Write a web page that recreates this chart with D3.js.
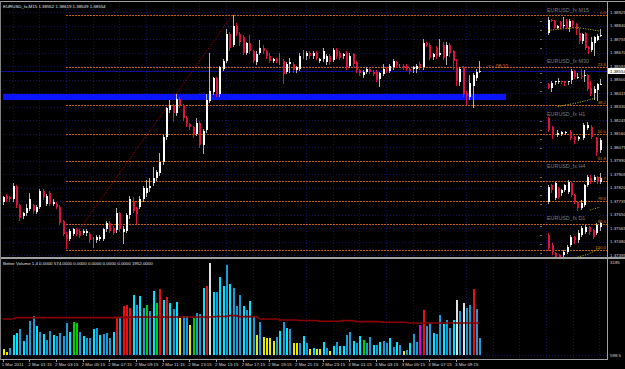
<!DOCTYPE html>
<html>
<head>
<meta charset="UTF-8">
<script src="https://cdn.jsdelivr.net/npm/d3@7"></script>
<style>
body{margin:0;background:#000;}
text{font-family:"Liberation Sans",Arial,sans-serif;}
</style>
</head>
<body>
<script>

// ---- data ----
var symbol = "EURUSD_fx,M15";
// [open, high, low, close] for each M15 bar, 1 Mar 23:15 .. 3 Mar 11:00
var ohlc = [
[1.3773,1.3777,1.3772,1.3776],[1.3777,1.3778,1.3774,1.3775],[1.3776,1.3777,1.3774,1.3775],[1.3775,1.3785,1.3774,1.3783],
[1.3783,1.3784,1.3770,1.3771],[1.3771,1.3772,1.3762,1.3763],[1.3764,1.3767,1.3763,1.3766],[1.3766,1.3772,1.3765,1.3769],
[1.3769,1.3779,1.3768,1.3775],[1.3771,1.3772,1.3766,1.3767],[1.3767,1.3771,1.3766,1.3770],[1.3770,1.3781,1.3769,1.3780],
[1.3780,1.3781,1.3775,1.3776],[1.3772,1.3778,1.3771,1.3777],[1.3779,1.3780,1.3771,1.3772],[1.3772,1.3775,1.3771,1.3773],
[1.3772,1.3773,1.3769,1.3770],[1.3770,1.3771,1.3759,1.3760],[1.3761,1.3762,1.3752,1.3753],[1.3753,1.3754,1.3744,1.3750],
[1.3750,1.3756,1.3749,1.3755],[1.3753,1.3757,1.3752,1.3756],[1.3756,1.3757,1.3752,1.3753],[1.3755,1.3756,1.3751,1.3752],
[1.3754,1.3756,1.3753,1.3755],[1.3754,1.3756,1.3752,1.3755],[1.3753,1.3754,1.3748,1.3749],[1.3749,1.3751,1.3745,1.3749],
[1.3749,1.3752,1.3748,1.3751],[1.3750,1.3752,1.3749,1.3751],[1.3750,1.3757,1.3749,1.3756],[1.3756,1.3761,1.3755,1.3760],
[1.3760,1.3761,1.3754,1.3755],[1.3757,1.3758,1.3753,1.3754],[1.3755,1.3769,1.3754,1.3766],[1.3766,1.3767,1.3755,1.3756],
[1.3754,1.3758,1.3747,1.3756],[1.3755,1.3766,1.3754,1.3765],[1.3765,1.3777,1.3763,1.3775],[1.3774,1.3776,1.3767,1.3768],
[1.3769,1.3770,1.3760,1.3765],[1.3770,1.3777,1.3769,1.3775],[1.3775,1.3783,1.3774,1.3782],[1.3779,1.3787,1.3777,1.3782],
[1.3782,1.3788,1.3780,1.3783],[1.3785,1.3795,1.3784,1.3788],[1.3788,1.3793,1.3787,1.3792],[1.3791,1.3804,1.3790,1.3798],
[1.3798,1.3815,1.3797,1.3814],[1.3814,1.3833,1.3813,1.3832],[1.3831,1.3837,1.3830,1.3834],[1.3834,1.3835,1.3824,1.3829],
[1.3829,1.3841,1.3828,1.3838],[1.3838,1.3839,1.3833,1.3834],[1.3834,1.3835,1.3825,1.3826],[1.3826,1.3827,1.3821,1.3822],
[1.3822,1.3823,1.3819,1.3820],[1.3820,1.3821,1.3814,1.3815],[1.3816,1.3826,1.3815,1.3823],[1.3823,1.3824,1.3808,1.3809],
[1.3809,1.3819,1.3804,1.3818],[1.3818,1.3841,1.3817,1.3837],[1.3837,1.3867,1.3836,1.3843],[1.3842,1.3852,1.3841,1.3851],
[1.3851,1.3852,1.3840,1.3841],[1.3841,1.3859,1.3840,1.3858],[1.3857,1.3863,1.3856,1.3862],[1.3862,1.3882,1.3861,1.3879],
[1.3879,1.3880,1.3869,1.3870],[1.3872,1.3891,1.3871,1.3884],[1.3884,1.3886,1.3878,1.3879],[1.3879,1.3880,1.3872,1.3874],
[1.3877,1.3878,1.3866,1.3867],[1.3867,1.3874,1.3866,1.3873],[1.3873,1.3878,1.3867,1.3868],[1.3868,1.3869,1.3861,1.3862],
[1.3861,1.3868,1.3860,1.3866],[1.3867,1.3875,1.3866,1.3870],[1.3870,1.3872,1.3867,1.3868],[1.3868,1.3869,1.3864,1.3865],
[1.3865,1.3867,1.3861,1.3862],[1.3862,1.3864,1.3861,1.3863],[1.3863,1.3864,1.3861,1.3862],[1.3862,1.3867,1.3860,1.3862],
[1.3862,1.3863,1.3848,1.3854],[1.3855,1.3861,1.3854,1.3860],[1.3860,1.3864,1.3855,1.3861],[1.3860,1.3861,1.3855,1.3856],
[1.3856,1.3859,1.3855,1.3858],[1.3857,1.3867,1.3856,1.3865],[1.3865,1.3869,1.3864,1.3865],[1.3865,1.3868,1.3863,1.3867],
[1.3867,1.3868,1.3864,1.3865],[1.3865,1.3868,1.3864,1.3867],[1.3867,1.3868,1.3863,1.3864],[1.3862,1.3864,1.3861,1.3863],
[1.3863,1.3870,1.3862,1.3868],[1.3861,1.3866,1.3860,1.3865],[1.3865,1.3866,1.3860,1.3861],[1.3863,1.3870,1.3862,1.3869],
[1.3869,1.3870,1.3864,1.3865],[1.3867,1.3868,1.3863,1.3864],[1.3865,1.3867,1.3864,1.3866],[1.3867,1.3868,1.3857,1.3858],
[1.3859,1.3867,1.3858,1.3865],[1.3866,1.3867,1.3859,1.3860],[1.3861,1.3862,1.3855,1.3856],[1.3856,1.3857,1.3853,1.3854],
[1.3853,1.3856,1.3852,1.3855],[1.3855,1.3858,1.3854,1.3857],[1.3857,1.3858,1.3854,1.3855],[1.3855,1.3856,1.3853,1.3854],
[1.3855,1.3856,1.3849,1.3850],[1.3850,1.3855,1.3846,1.3854],[1.3854,1.3860,1.3853,1.3857],[1.3857,1.3858,1.3855,1.3856],
[1.3856,1.3860,1.3855,1.3859],[1.3858,1.3863,1.3857,1.3862],[1.3861,1.3862,1.3858,1.3859],[1.3859,1.3860,1.3858,1.3859],
[1.3859,1.3860,1.3857,1.3858],[1.3859,1.3860,1.3856,1.3857],[1.3857,1.3858,1.3854,1.3856],[1.3857,1.3859,1.3855,1.3858],
[1.3857,1.3860,1.3855,1.3859],[1.3860,1.3861,1.3857,1.3858],[1.3858,1.3876,1.3857,1.3873],[1.3873,1.3874,1.3871,1.3872],
[1.3872,1.3873,1.3863,1.3864],[1.3864,1.3867,1.3863,1.3866],[1.3870,1.3871,1.3864,1.3865],[1.3866,1.3876,1.3865,1.3867],
[1.3872,1.3874,1.3863,1.3864],[1.3865,1.3874,1.3860,1.3872],[1.3872,1.3873,1.3865,1.3867],[1.3868,1.3869,1.3857,1.3862],
[1.3858,1.3863,1.3847,1.3849],[1.3849,1.3858,1.3847,1.3857],[1.3858,1.3859,1.3840,1.3841],[1.3842,1.3843,1.3835,1.3840],
[1.3839,1.3853,1.3838,1.3848],[1.3846,1.3854,1.3833,1.3853],[1.3851,1.3857,1.3850,1.3855],[1.38552,1.38619,1.38549,1.38554]
];

var volume = [
200,110,230,690,740,890,480,690,1170,1340,
990,780,710,510,820,690,660,740,660,1110,
800,1120,1090,780,660,590,570,890,940,690,
710,740,590,780,1300,1260,1690,1710,1620,2060,
1710,2030,1600,1710,1510,2190,1770,2260,1880,2000,
1770,1570,1830,1260,1340,1340,1030,1280,1450,1400,
2280,2360,3140,2150,2150,2680,2370,3080,2420,2280,
1680,2060,1690,1540,1850,1340,690,1140,630,590,
570,480,630,820,1120,910,890,400,400,400,
660,400,210,250,200,210,440,230,140,320,
440,310,310,690,800,480,400,660,510,400,
610,340,340,460,480,400,590,280,440,340,
150,170,400,710,440,1030,1540,990,1090,740,
710,1370,1050,1200,910,1190,1880,1510,1770,1600,
1710,2260,1580,574];
// Better Volume bar class: b/c neutral, r climax, y low, g churn, w climax down, m climax churn
var volType = ("yybccbcbbb" + "cbcbbcbbbb" + "cggbcbbcbc" + "bbbcrbrrrc" + "bcbgbcgrcr" +
               "cbcybbygbb" + "crwcbccbcb" + "bbcbcbybyy" + "yybcbcbyyb" + "cbycyycbyc" +
               "bccbbcbcgb" + "bcbcbbcbcb" + "ybcbbmrbbc" + "bbcbbcwbwb" + "brbb").split("");
var volAvg = [
1235,1235,1235,1235,1280,1280,1280,1280,1280,1280,
1280,1280,1280,1280,1280,1280,1280,1280,1280,1280,
1280,1280,1280,1280,1280,1280,1280,1280,1280,1280,
1280,1280,1280,1280,1290,1290,1290,1290,1290,1303,
1303,1303,1303,1303,1303,1303,1303,1303,1303,1303,
1303,1303,1303,1303,1303,1303,1303,1303,1303,1303,
1303,1303,1303,1303,1320,1320,1320,1320,1349,1349,
1349,1315,1315,1315,1315,1315,1315,1235,1235,1235,
1235,1235,1235,1200,1200,1200,1200,1200,1200,1180,
1180,1180,1180,1180,1180,1155,1155,1155,1155,1155,
1155,1155,1178,1178,1178,1178,1143,1143,1143,1143,
1143,1143,1143,1143,1120,1120,1120,1120,1120,1120,
1120,1120,1098,1098,1098,1098,1098,1098,1098,1098,
1098,1098,1098,1098,1098,1098,1098,1098,1098,1098,
1098,1098,1098,1098];
var volHeader = "Better Volume 1.4  0.0000 574.0000 0.0000 0.0000 0.0000 0.0000 1952.0000";
var volMax = 3185;

var priceTicks = [1.38925,1.38840,1.38755,1.38670,1.38585,1.38500,1.38415,1.38330,1.38245,1.38160,
                  1.38075,1.37990,1.37905,1.37820,1.37735,1.37650,1.37565,1.37480,1.37395];
var bid = 1.38554;

var timeBars = [0,8,16,24,32,40,48,56,64,72,80,88,96,104,112,120,128,136];
var timeLabels = ["1 Mar 2011","2 Mar 01:15","2 Mar 03:15","2 Mar 05:15","2 Mar 07:15","2 Mar 09:15",
                  "2 Mar 11:15","2 Mar 13:15","2 Mar 15:15","2 Mar 17:15","2 Mar 19:15","2 Mar 21:15",
                  "2 Mar 23:15","3 Mar 01:15","3 Mar 03:15","3 Mar 05:15","3 Mar 07:15","3 Mar 09:15"];

// fibonacci retracement, low bar 19 -> high bar 69
var fibLevels = [1.3891,1.3858,1.3834,1.3816,1.3799,1.3786,1.3774,1.3759,1.3743];
var fibLabels = ["0.0","23.6","38.2","50.0","61.8","70.7","78.6","88.6","100.0"];
var fibFrom = [19, 1.3744], fibTo = [69, 1.3891];
var zone = {from: 0, to: 151, top: 1.38408, bottom: 1.38372};
var timer = "<-- 08:10";

// small charts of other timeframes
var m30 = [
[1.3855,1.3856,1.3849,1.3850],[1.3850,1.3860,1.3846,1.3857],[1.3857,1.3860,1.3855,1.3859],[1.3858,1.3863,1.3857,1.3859],
[1.3859,1.3860,1.3857,1.3858],[1.3859,1.3860,1.3854,1.3856],[1.3857,1.3860,1.3855,1.3859],[1.3860,1.3876,1.3857,1.3873],
[1.3873,1.3874,1.3863,1.3864],[1.3864,1.3871,1.3863,1.3865],[1.3866,1.3876,1.3863,1.3864],[1.3865,1.3874,1.3860,1.3867],
[1.3868,1.3869,1.3847,1.3849],[1.3849,1.3859,1.3840,1.3841],[1.3842,1.3853,1.3835,1.3848],[1.3846,1.3857,1.3833,1.3855],
[1.38552,1.38619,1.38549,1.38554]];
var h1 = [
[1.3880,1.3881,1.3867,1.3868],[1.3871,1.3872,1.3860,1.3863],[1.3863,1.3868,1.3862,1.3865],[1.3864,1.3867,1.3863,1.3866],
[1.3865,1.3867,1.3864,1.3866],[1.3866,1.3868,1.3859,1.3860],[1.3861,1.3862,1.3855,1.3858],[1.3859,1.3862,1.3858,1.3861],
[1.3860,1.3875,1.3859,1.3873],[1.3870,1.3876,1.3869,1.3873],[1.3871,1.3873,1.3860,1.3861],[1.3860,1.3861,1.3843,1.3846],
[1.3848,1.3860,1.3846,1.3858]];
var h4 = [
[1.3826,1.3860,1.3824,1.3856],[1.3860,1.3862,1.3846,1.3850],[1.3834,1.3866,1.3832,1.3864],[1.3854,1.3856,1.3834,1.3836],
[1.3844,1.3852,1.3840,1.3850],[1.3850,1.3862,1.3848,1.3860],[1.3846,1.3870,1.3844,1.3866],[1.3864,1.3868,1.3838,1.3840],
[1.3840,1.3842,1.3824,1.3826],[1.3826,1.3828,1.3810,1.3814],[1.3814,1.3830,1.3812,1.3824],[1.3820,1.3862,1.3818,1.3860],
[1.3860,1.3880,1.3858,1.3876],[1.3874,1.3880,1.3864,1.3866],[1.3870,1.3880,1.3868,1.3876],[1.3876,1.3878,1.3864,1.3866],
[1.3866,1.3884,1.3864,1.3874]];
var d1 = [
[1.3835,1.3845,1.3760,1.3770],[1.3785,1.3795,1.3740,1.3750],[1.3745,1.3750,1.3720,1.3725],[1.3735,1.3740,1.3720,1.3725],
[1.3735,1.3760,1.3730,1.3750],[1.3750,1.3785,1.3745,1.3775],[1.3785,1.3835,1.3780,1.3825],[1.3825,1.3830,1.3795,1.3810],
[1.3810,1.3860,1.3800,1.3845],[1.3835,1.3880,1.3830,1.3870],[1.3850,1.3885,1.3845,1.3875],[1.3875,1.3880,1.3840,1.3850],
[1.3860,1.3865,1.3820,1.3825],[1.3845,1.3895,1.3840,1.3885],[1.3875,1.3900,1.3860,1.3895]];
var maM15 = [[0,1.3861],[6,1.3863],[10,1.3864],[17,1.3860]];
var maM30 = [[3,1.3824],[9,1.3829],[15,1.3836]];
var maH4 = [[13,1.3810],[16,1.3816]];
var maD1 = [[8,1.3725],[11,1.3740],[14,1.3770]];

// ---- layout ----
var width = 625, height = 369;
var axisX = 607;
var mainTop = 3, mainBottom = 257, volTop = 259, volBottom = 358;

var bull = "#ffffff", bullWick = "#b0b0b0", bear = "#dc143c", doji = "#00c000";
var gridColor = "#12125e", fibColor = "#c06010";
var volColors = {b: "#1b9ad6", c: "#00e5ff", r: "#e81010", y: "#e8e800", g: "#00d000", w: "#e0e0e0", m: "#e000e0"};

var svg = d3.select("body").append("svg")
    .attr("width", width)
    .attr("height", height)
    .style("display", "block")
    .style("background", "#000");

var defs = svg.append("defs");
defs.append("clipPath").attr("id", "clipMain")
    .append("rect").attr("x", 0).attr("y", mainTop).attr("width", axisX).attr("height", mainBottom - mainTop);
defs.append("clipPath").attr("id", "clipVol")
    .append("rect").attr("x", 0).attr("y", volTop).attr("width", axisX).attr("height", volBottom - volTop);

var x = d3.scaleLinear().domain([0, ohlc.length - 1]).range([2.7, 479.3]);
var y = d3.scaleLinear().domain([1.37395, 1.38925]).range([255.3, 12.3]);
var yv = d3.scaleLinear().domain([0, volMax]).range([355, 262]);

function px(v) { return Math.round(v) + 0.5; }

var main = svg.append("g").attr("clip-path", "url(#clipMain)");
var vol = svg.append("g").attr("clip-path", "url(#clipVol)");

// grid
var gridBars = d3.range(3, 184, 8);
main.selectAll(".hgrid").data(priceTicks).enter().append("line")
    .attr("x1", 0).attr("x2", axisX)
    .attr("y1", function(d) { return px(y(d)); })
    .attr("y2", function(d) { return px(y(d)); })
    .attr("stroke", gridColor).attr("stroke-dasharray", "1,2")
    .attr("shape-rendering", "crispEdges");
[main, vol].forEach(function(g) {
    g.selectAll(".vgrid").data(gridBars).enter().append("line")
        .attr("x1", function(d) { return px(x(d)); })
        .attr("x2", function(d) { return px(x(d)); })
        .attr("y1", 0).attr("y2", height)
        .attr("stroke", gridColor).attr("stroke-dasharray", "1,2")
        .attr("shape-rendering", "crispEdges");
});
vol.append("line").attr("x1", 0).attr("x2", axisX).attr("y1", 355.5).attr("y2", 355.5)
    .attr("stroke", gridColor).attr("stroke-dasharray", "1,2").attr("shape-rendering", "crispEdges");

// support zone and fibo
main.append("rect")
    .attr("x", x(zone.from)).attr("width", x(zone.to) - x(zone.from))
    .attr("y", Math.round(y(zone.top))).attr("height", Math.round(y(zone.bottom) - y(zone.top)))
    .attr("fill", "#0a14ff").attr("shape-rendering", "crispEdges");

main.selectAll(".fib").data(fibLevels).enter().append("line")
    .attr("x1", x(fibFrom[0])).attr("x2", axisX)
    .attr("y1", function(d) { return px(y(d)); })
    .attr("y2", function(d) { return px(y(d)); })
    .attr("stroke", fibColor).attr("stroke-dasharray", "2,1")
    .attr("shape-rendering", "crispEdges");

main.append("line")
    .attr("x1", x(fibFrom[0])).attr("y1", y(fibFrom[1]))
    .attr("x2", x(fibTo[0])).attr("y2", y(fibTo[1]))
    .attr("stroke", "#b00000").attr("stroke-dasharray", "1.2,1.4");

// bid line
main.append("line").attr("x1", 0).attr("x2", axisX)
    .attr("y1", px(y(bid))).attr("y2", px(y(bid)))
    .attr("stroke", "#1010a0").attr("shape-rendering", "crispEdges");

// candles
function drawCandles(g, data, xs, ys) {
    var c = g.selectAll(null).data(data).enter().append("g");
    c.append("line")
        .attr("x1", function(d, i) { return px(xs(i)); })
        .attr("x2", function(d, i) { return px(xs(i)); })
        .attr("y1", function(d) { return Math.round(ys(d[1])); })
        .attr("y2", function(d) { return Math.round(ys(d[2])) + 1; })
        .attr("shape-rendering", "crispEdges")
        .attr("stroke", function(d) { return d[0] == d[3] ? doji : (d[3] > d[0] ? bullWick : bear); });
    c.filter(function(d) { return d[0] != d[3]; }).append("rect")
        .attr("x", function(d) { return Math.round(xs(data.indexOf(d))); })
        .attr("width", 2)
        .attr("y", function(d) { return Math.round(ys(Math.max(d[0], d[3]))); })
        .attr("height", function(d) { return Math.max(1, Math.round(Math.abs(ys(d[0]) - ys(d[3])))); })
        .attr("shape-rendering", "crispEdges")
        .attr("fill", function(d) { return d[3] > d[0] ? bull : bear; });
}
drawCandles(main, ohlc, x, y);

main.append("text").attr("x", 488).attr("y", 67.5)
    .attr("font-size", 5).attr("fill", "#d07020").text(timer);

// small timeframe charts
var minis = [
    {name: "EURUSD_fx M15", data: ohlc.slice(126), ma: maM15, title: 11.5, top: 17, bottom: 55},
    {name: "EURUSD_fx M30", data: m30, ma: maM30, title: 63, top: 69, bottom: 100},
    {name: "EURUSD_fx H1", data: h1, ma: [], title: 116, top: 117, bottom: 155},
    {name: "EURUSD_fx H4", data: h4, ma: maH4, title: 168, top: 173, bottom: 210},
    {name: "EURUSD_fx D1", data: d1, ma: maD1, title: 219.5, top: 222, bottom: 258}
];
minis.forEach(function(p) {
    var xs = d3.scaleLinear().domain([0, p.data.length - 1]).range([548, 600]);
    var ys = d3.scaleLinear()
        .domain([d3.min(p.data, function(d) { return d[2]; }), d3.max(p.data, function(d) { return d[1]; })])
        .range([p.bottom, p.top]);
    main.append("text").attr("x", 547).attr("y", p.title)
        .attr("font-size", 5.4).attr("fill", "#7c7c7c").text(p.name);
    for (var k = p.top + 4; k < p.bottom; k += 9) {
        main.append("line").attr("x1", 540).attr("x2", 542).attr("y1", k + 0.5).attr("y2", k + 0.5)
            .attr("stroke", "#707070").attr("shape-rendering", "crispEdges");
    }
    drawCandles(main, p.data, xs, ys);
    if (p.ma.length) {
        main.append("path")
            .attr("d", d3.line().x(function(d) { return xs(d[0]); }).y(function(d) { return ys(d[1]); })(p.ma))
            .attr("fill", "none").attr("stroke", "#c8c800").attr("stroke-dasharray", "1,1.5");
    }
});

// fib level labels at right edge
main.selectAll(".fiblab").data(fibLevels).enter().append("text")
    .attr("x", 606).attr("y", function(d) { return y(d) - 1; })
    .attr("text-anchor", "end").attr("font-size", 4.3).attr("fill", "#d07a10")
    .text(function(d, i) { return fibLabels[i]; });

// volume
vol.selectAll(".vbar").data(volume).enter().append("rect")
    .attr("x", function(d, i) { return Math.round(x(i)); })
    .attr("width", 2)
    .attr("y", function(d) { return Math.round(yv(d)); })
    .attr("height", function(d) { return Math.round(yv(0)) - Math.round(yv(d)); })
    .attr("shape-rendering", "crispEdges")
    .attr("fill", function(d, i) { return volColors[volType[i]]; });

vol.append("path")
    .attr("d", d3.line().x(function(d, i) { return x(i); }).y(function(d) { return yv(d); })(volAvg))
    .attr("fill", "none").attr("stroke", "#8b0000").attr("stroke-width", 1.6);

// frames
svg.append("line").attr("x1", 0).attr("x2", width).attr("y1", 1.5).attr("y2", 1.5).attr("stroke", "#a0a0a0");
svg.append("line").attr("x1", 0).attr("x2", width).attr("y1", 258).attr("y2", 258).attr("stroke", "#a0a0a0").attr("stroke-width", 2);
svg.append("line").attr("x1", 0).attr("x2", axisX).attr("y1", 359.5).attr("y2", 359.5).attr("stroke", "#a0a0a0");
svg.append("line").attr("x1", axisX + 0.5).attr("x2", axisX + 0.5).attr("y1", 1).attr("y2", 360).attr("stroke", "#a0a0a0");
svg.append("line").attr("x1", 0.5).attr("x2", 0.5).attr("y1", 1).attr("y2", 360).attr("stroke", "#808080");

// texts
svg.append("text").attr("x", 3).attr("y", 7.5).attr("font-size", 4.4).attr("fill", "#e0e0e0")
    .text(symbol + "  " + ohlc[ohlc.length - 1].map(function(v) { return v.toFixed(5); }).join(" "));
svg.append("text").attr("x", 3).attr("y", 264.5).attr("font-size", 4.4).attr("fill", "#e0e0e0").text(volHeader);

svg.selectAll(".plab").data(priceTicks).enter().append("text")
    .attr("x", 610).attr("y", function(d) { return y(d) + 1.5; })
    .attr("font-size", 4.4).attr("fill", "#d8d8d8")
    .text(function(d) { return d.toFixed(5); });

svg.append("rect").attr("x", 608).attr("y", Math.round(y(bid)) - 3).attr("width", 17).attr("height", 6).attr("fill", "#ffffff");
svg.append("text").attr("x", 610).attr("y", y(bid) + 1.5).attr("font-size", 4.4).attr("fill", "#000")
    .text(bid.toFixed(5));

svg.append("text").attr("x", 610).attr("y", yv(volMax) + 1.5).attr("font-size", 4.4).attr("fill", "#d8d8d8").text(volMax);
svg.append("text").attr("x", 610).attr("y", 356.5).attr("font-size", 4.4).attr("fill", "#d8d8d8").text("598.5");

svg.selectAll(".tlab").data(timeBars).enter().append("text")
    .attr("x", function(d) { return x(d) - 1; }).attr("y", 366)
    .attr("font-size", 4.4).attr("fill", "#d8d8d8")
    .text(function(d, i) { return timeLabels[i]; });
svg.selectAll(".tick").data(timeBars).enter().append("line")
    .attr("x1", function(d) { return px(x(d)); })
    .attr("x2", function(d) { return px(x(d)); })
    .attr("y1", 359).attr("y2", 362).attr("stroke", "#a0a0a0");

</script>
</body>
</html>
